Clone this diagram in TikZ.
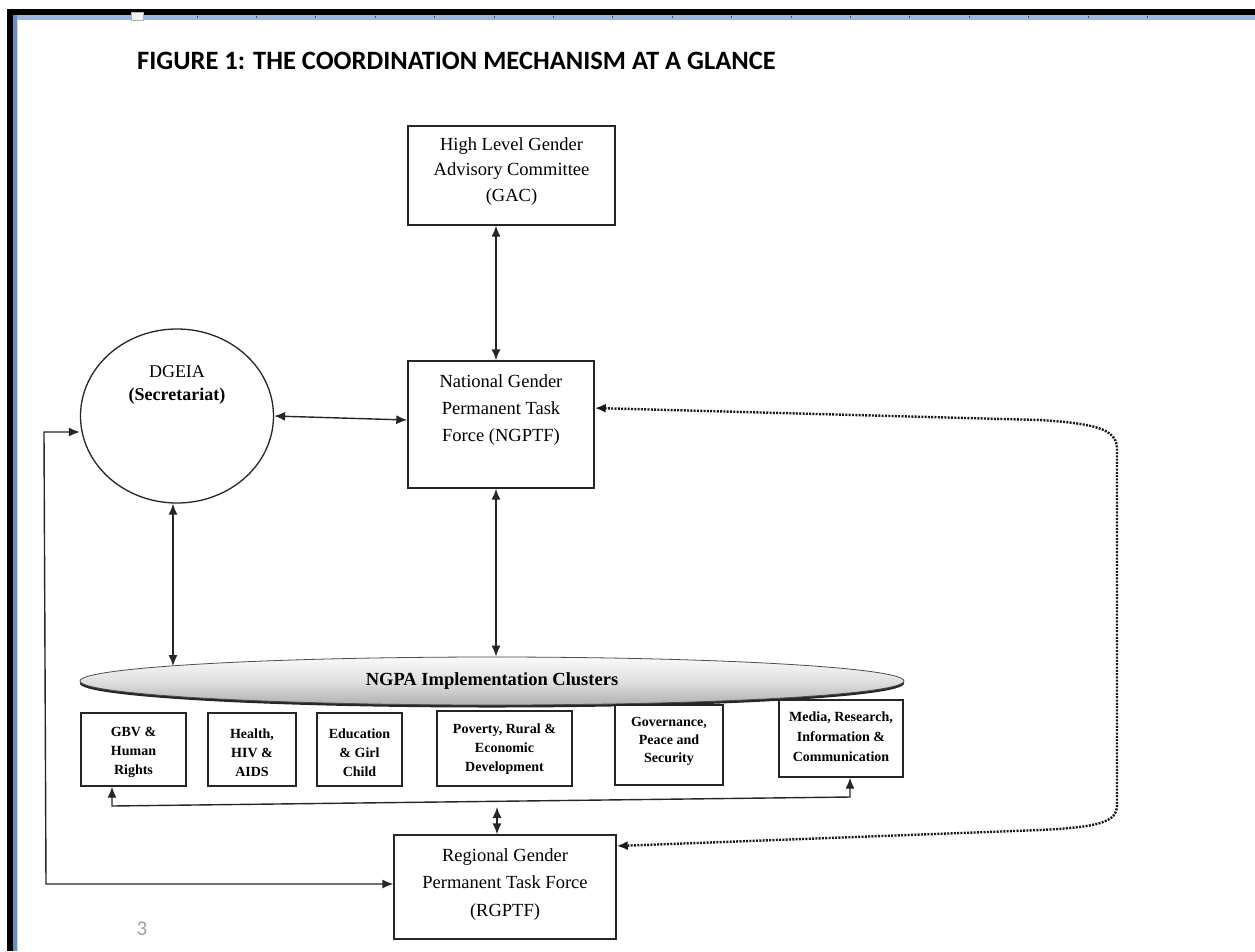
\documentclass[tikz,border=0pt]{standalone}
\usepackage{fontspec}
\setmainfont{Liberation Serif}
\newfontfamily\calibri{Carlito}
\usetikzlibrary{arrows.meta,shapes.geometric,shadows}
\definecolor{rulerblue}{RGB}{152,182,222}
\definecolor{sideblue}{RGB}{108,140,190}
\begin{document}
\begin{tikzpicture}[x=1pt,y=-1pt,
  >={Latex[length=11pt,width=9pt]},
  box/.style={draw=black!85,line width=1.4pt,rectangle,inner sep=0pt,fill=white},
  big/.style={align=center,font=\fontsize{18.5}{27}\selectfont,inner sep=0pt},
  small/.style={align=center,font=\fontsize{14}{19}\selectfont\bfseries,inner sep=0pt},
  link/.style={line width=1.4pt,draw=black!85},
  dots/.style={line width=2.4pt,draw=black!90,dash pattern=on 2pt off 1.3pt}
]
\useasboundingbox (0,0) rectangle (1255,951);
\fill[white] (0,0) rectangle (1255,951);
% window frame
\fill[black] (7,9) rectangle (1255,15);
\fill[black] (7,9) rectangle (13,951);
\fill[rulerblue] (13,15) rectangle (1255,20);
\fill[sideblue] (13,15) rectangle (17,951);
\fill[gray!30] (17,20) rectangle (18,951);
\draw[fill=gray!10,draw=gray!60,line width=0.6pt] (131,12) rectangle (143,20);
\foreach \i in {0,...,16} \draw[gray!60!black,line width=0.8pt] ({197+59.4*\i},15.5) -- ++(0,2.5);

% title
\node[anchor=base west,inner sep=0pt,font=\calibri\bfseries\fontsize{26.5}{30}\selectfont] (title) at (137,69) {FIGURE 1: THE COORDINATION MECHANISM AT A GLANCE};

% main boxes
\node[box,minimum width=207pt,minimum height=99pt] (gac) at (511.5,175.5) {};
\node[big,align=center,font=\fontsize{18.5}{25.5}\selectfont] (gac-t) at (511.5,171.5) {High Level Gender\\Advisory Committee\\(GAC)};

\node[box,minimum width=186pt,minimum height=127pt] (ngptf) at (501,424.5) {};
\node[big] (ngptf-t) at (501,410.5) {National Gender\\Permanent Task\\Force (NGPTF)};

\node[box,minimum width=222pt,minimum height=104pt] (rgptf) at (505,887) {};
\node[big,font=\fontsize{18.5}{27.5}\selectfont] (rgptf-t) at (505,884.5) {Regional Gender\\Permanent Task Force\\(RGPTF)};

% DGEIA ellipse
\node[ellipse,draw=black!85,line width=1.3pt,minimum width=193pt,minimum height=174pt,inner sep=0pt] (dgeia) at (177,416) {};
\node[big,font=\fontsize{18}{23}\selectfont] (dgeia-t) at (177,385) {DGEIA\\\textbf{(Secretariat)}};

% clusters ellipse
\node[ellipse,minimum width=824pt,minimum height=48pt,inner sep=0pt,
  draw=gray!60!black,line width=0.8pt,
  top color=gray!5,bottom color=gray!62,middle color=gray!24,
  drop shadow={shadow xshift=0pt,shadow yshift=-2.5pt,fill=black,opacity=0.85},
  font=\fontsize{18.5}{22}\selectfont\bfseries] (clusters) at (492,681) {NGPA Implementation Clusters};

% cluster boxes
\node[box,minimum width=105pt,minimum height=73pt] (gbv) at (133.5,749.5) {};
\node[small] (gbv-t) at (133.5,752.5) {GBV \&\\Human\\Rights};
\node[box,minimum width=88pt,minimum height=73pt] (health) at (252,749.5) {};
\node[small] (health-t) at (252,752.5) {Health,\\HIV \&\\AIDS};
\node[box,minimum width=85pt,minimum height=73pt] (edu) at (359.5,749.5) {};
\node[small] (edu-t) at (359.5,752.5) {Education\\\& Girl\\Child};
\node[box,minimum width=135pt,minimum height=75pt] (pov) at (504.5,748.5) {};
\node[small] (pov-t) at (504.5,749) {Poverty, Rural \&\\Economic\\Development};
\node[box,minimum width=108pt,minimum height=80pt] (gov) at (669,745) {};
\node[small,font=\fontsize{14}{18}\selectfont\bfseries] (gov-t) at (669,741.5) {Governance,\\Peace and\\Security};
\node[box,minimum width=124pt,minimum height=77pt] (media) at (841,738.5) {};
\node[small,font=\fontsize{14}{20}\selectfont\bfseries] (media-t) at (841,736.5) {Media, Research,\\Information \&\\Communication};

% page number
\node[anchor=base,inner sep=0pt,text=gray!75,font=\calibri\fontsize{21}{24}\selectfont] (pagenum) at (142,935) {3};

% helper coordinates
\coordinate (ax) at (496,0);
\coordinate (d1) at (173,0);
\coordinate (d2) at (173,666);
\coordinate (n1) at (0,420);
\coordinate (l1) at (46,884);
\coordinate (l2) at (44,432);
\coordinate (b1) at (112,806);
\coordinate (b2) at (850,797);
\coordinate (m1) at (497,807);
\coordinate (q1) at (0,408);
\coordinate (q2) at (0,846);

% connectors
\draw[link,<->] (gac.south -| ax) -- (ngptf.north -| ax);
\draw[link,<->] (dgeia.east) -- (n1 -| ngptf.west);
\draw[link,<->] (dgeia.south -| d1) -- (d2);
\draw[link,<->] (ngptf.south -| ax) -- (clusters.north -| ax);
\draw[link,<->] (gbv.south -| b1) -- (b1) -- (b2) -- (media.south -| b2);
\draw[link,<->] (m1) -- (rgptf.north -| m1);
\draw[link,<->] (l2 -| dgeia.west) -- (l2) -- (l1) -- (l1 -| rgptf.west);
\draw[dots,<->] (q1 -| ngptf.east) -- (1040,420) .. controls (1105,424) and (1117,432) .. (1117,450)
  -- (1117,805) .. controls (1117,822) and (1100,827) .. (1040,830) -- (q2 -| rgptf.east);
\end{tikzpicture}
\end{document}
